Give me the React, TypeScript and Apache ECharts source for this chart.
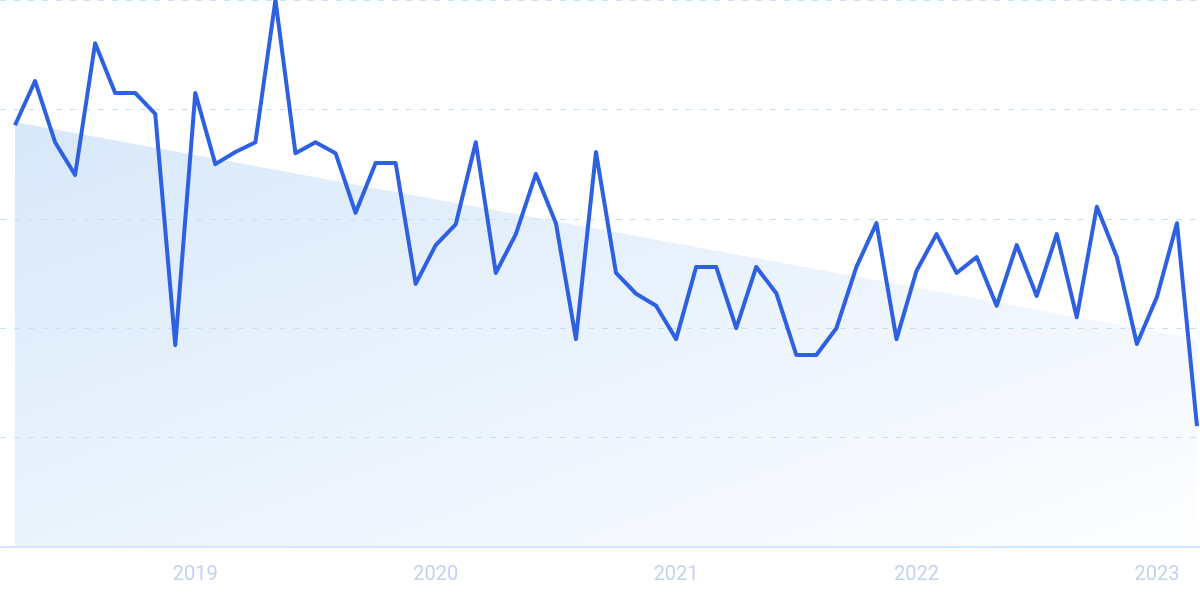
import React, { useEffect, useRef } from "react";
import * as echarts from "echarts";

const months: string[] = [
  "2018-04", "2018-05", "2018-06", "2018-07", "2018-08", "2018-09", "2018-10", "2018-11", "2018-12",
  "2019-01", "2019-02", "2019-03", "2019-04", "2019-05", "2019-06", "2019-07", "2019-08", "2019-09", "2019-10", "2019-11", "2019-12",
  "2020-01", "2020-02", "2020-03", "2020-04", "2020-05", "2020-06", "2020-07", "2020-08", "2020-09", "2020-10", "2020-11", "2020-12",
  "2021-01", "2021-02", "2021-03", "2021-04", "2021-05", "2021-06", "2021-07", "2021-08", "2021-09", "2021-10", "2021-11", "2021-12",
  "2022-01", "2022-02", "2022-03", "2022-04", "2022-05", "2022-06", "2022-07", "2022-08", "2022-09", "2022-10", "2022-11", "2022-12",
  "2023-01", "2023-02", "2023-03",
];

const values: number[] = [
  77.1, 85.2, 74.0, 68.0, 92.1, 83.0, 83.0, 79.2, 36.9,
  83.0, 70.0, 72.2, 74.0, 100, 72.0, 74.0, 72.0, 61.1, 70.2, 70.2, 48.1,
  55.2, 59.0, 74.0, 50.1, 57.2, 68.2, 59.2, 38.0, 72.2, 50.1, 46.3, 44.1,
  38.0, 51.2, 51.2, 40.0, 51.2, 46.4, 35.1, 35.1, 40.0, 51.2, 59.2, 38.0,
  50.5, 57.2, 50.1, 53.0, 44.1, 55.2, 45.9, 57.2, 42.0, 62.2, 53.0, 37.1,
  45.7, 59.2, 22.1,
];

// trend line endpoints (first and last month)
const trendValues: number[] = [77.7, 38.0];

const yearLabels: string[] = ["2019", "2020", "2021", "2022", "2023"];

export default function App() {
  const ref = useRef<HTMLDivElement>(null);

  useEffect(() => {
    if (!ref.current) return;
    const chart = echarts.init(ref.current, undefined, { renderer: "svg" });

    const lineData = values.map((v, i) => [i, v]);
    const trendData = [
      [0, trendValues[0]],
      [months.length - 1, trendValues[1]],
    ];
    const yearTickIdx = yearLabels.map((y) => months.indexOf(`${y}-01`));

    chart.setOption({
      animation: false,
      grid: { left: 0, right: 0, top: 0, bottom: 52, containLabel: false },
      xAxis: {
        type: "value",
        min: -0.749,
        max: 59.15,
        z: 2,
        axisLine: { show: true, lineStyle: { color: "#d3e6fb", width: 2 } },
        axisTick: { show: false },
        splitLine: { show: false },
        axisLabel: {
          show: true,
          customValues: yearTickIdx,
          formatter: (v: number) => {
            const m = months[Math.round(v)];
            return m ? m.slice(0, 4) : "";
          },
          color: "#c6d0f1",
          fontSize: 20,
          fontFamily: "Roboto",
          margin: 16,
        },
      },
      yAxis: {
        type: "value",
        min: 0,
        max: 100,
        interval: 20,
        z: 2,
        axisLine: { show: false },
        axisTick: { show: false },
        axisLabel: { show: false },
        splitLine: {
          show: true,
          lineStyle: { color: "#c5e1fa", type: [6, 8], width: 1.2 },
        },
      },
      series: [
        {
          type: "line",
          data: trendData,
          symbol: "none",
          silent: true,
          lineStyle: { width: 0, opacity: 0 },
          areaStyle: {
            opacity: 1,
            color: new echarts.graphic.LinearGradient(0, 0, 1, 1, [
              { offset: 0, color: "#d8e8fa" },
              { offset: 1, color: "#fdfeff" },
            ]),
          },
          z: 1,
        },
        {
          type: "line",
          data: lineData,
          symbol: "none",
          lineStyle: { color: "#2e60e2", width: 4, join: "round" },
          z: 3,
        },
      ],
    });

    return () => chart.dispose();
  }, []);

  return (
    <div
      ref={ref}
      style={{ position: "fixed", left: 0, top: 0, width: 1200, height: 599 }}
    />
  );
}
